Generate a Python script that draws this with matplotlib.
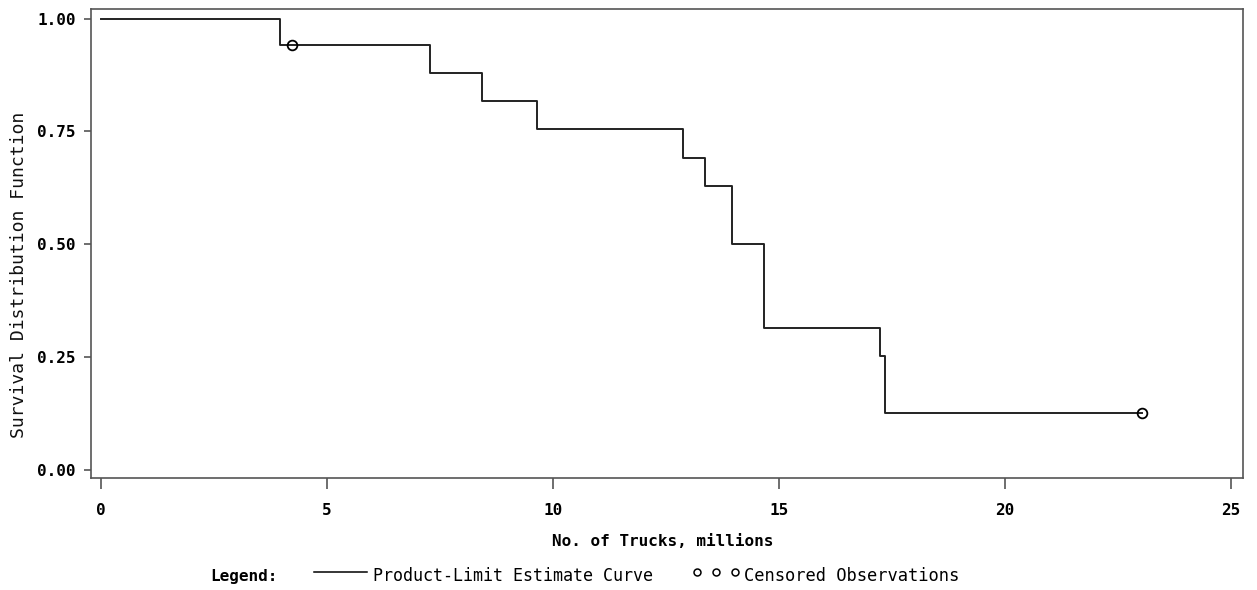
"""
Product-limit (Kaplan-Meier) survival curve for truck counts, SAS-style layout.
"""
import matplotlib
matplotlib.use("Agg")
import matplotlib.pyplot as plt

# Step points of the product-limit estimate (x in millions of trucks)
step_x = [0.0, 3.96, 7.29, 8.44, 9.64, 12.88, 13.36, 13.97, 14.66, 17.23, 17.35]
step_y = [1.000, 0.942, 0.879, 0.817, 0.755, 0.692, 0.629, 0.501, 0.314, 0.253, 0.127]
last_x = 23.03

# Censored observations
cens_x = [4.23, 23.03]
cens_y = [0.942, 0.127]

xticks = [0, 5, 10, 15, 20, 25]
yticks = [0.00, 0.25, 0.50, 0.75, 1.00]
ytick_labels = ["0.00", "0.25", "0.50", "0.75", "1.00"]

mono = "DejaVu Sans Mono"
ink = "#222222"
frame = "#555555"

fig = plt.figure(figsize=(12.57, 5.90), dpi=100)
ax = fig.add_axes([0.0724, 0.1903, 0.9162, 0.7936])

xs = step_x + [last_x]
ys = step_y + [step_y[-1]]
ax.step(xs, ys, where="post", color=ink, lw=1.4, zorder=3)
ax.plot(cens_x, cens_y, "o", ms=7, mfc="none", mec="black", mew=1.3, zorder=4)

ax.set_xlim(-0.22, 25.26)
ax.set_ylim(-0.017, 1.020)
ax.set_xticks(xticks)
ax.set_xticklabels([str(t) for t in xticks], fontfamily=mono, fontweight="bold", fontsize=11.5)
ax.set_yticks(yticks)
ax.set_yticklabels(ytick_labels, fontfamily=mono, fontweight="bold", fontsize=11.5)
ax.tick_params(axis="x", direction="out", length=8, width=1.2, color=frame, pad=10)
ax.tick_params(axis="y", direction="out", length=5, width=1.2, color=frame, pad=6)

for s in ax.spines.values():
    s.set_color(frame)
    s.set_linewidth(1.2)

# Axis titles
fig.text(663 / 1257, 1 - 541 / 590, "No. of Trucks, millions", fontfamily=mono,
         fontweight="bold", fontsize=11.5, ha="center", va="center")
fig.text(19 / 1257, 1 - 275 / 590, "Survival Distribution Function", fontfamily=mono,
         fontsize=13, rotation=90, ha="center", va="center", color="#111111")

# Legend row along the bottom
ly = 1 - 576 / 590
fig.text(210 / 1257, ly, "Legend:", fontfamily=mono, fontweight="bold",
         fontsize=11.5, ha="left", va="center")
fig.add_artist(plt.Line2D([314 / 1257, 367 / 1257], [1 - 572 / 590] * 2,
                          transform=fig.transFigure, color="black", lw=1.1))
fig.text(373 / 1257, ly, "Product-Limit Estimate Curve", fontfamily=mono,
         fontsize=12, ha="left", va="center")
for cx in [697, 716, 735]:
    fig.add_artist(plt.Line2D([cx / 1257], [1 - 572 / 590], transform=fig.transFigure,
                              marker="o", ms=5, mfc="none", mec="black", mew=1.1))
fig.text(744 / 1257, ly, "Censored Observations", fontfamily=mono,
         fontsize=12.3, ha="left", va="center")

fig.savefig("out.png", dpi=100)
